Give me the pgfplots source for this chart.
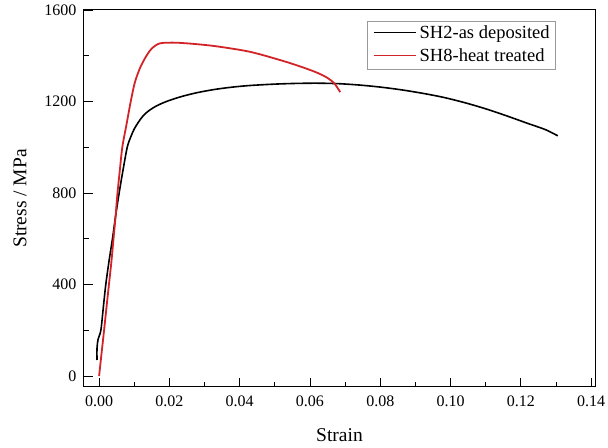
\documentclass[border=0pt]{standalone}
\usepackage{fontspec}
\setmainfont{Liberation Serif}
\usepackage{pgfplots}
\pgfplotsset{compat=1.18}
\definecolor{shRed}{RGB}{210,35,40}

\begin{document}
\begin{tikzpicture}
\begin{axis}[
    scale only axis,
    width=511pt, height=377pt,
    xmin=-0.0043, xmax=0.1411,
    ymin=-48, ymax=1600,
    xtick={0,0.02,...,0.14},
    ytick={0,400,...,1600},
    minor x tick num=1,
    minor y tick num=1,
    tick align=inside,
    xtick pos=bottom, ytick pos=left,
    major tick length=9pt, minor tick length=5pt,
    tick style={black, line width=0.9pt},
    axis line style={line width=1pt},
    xticklabel={\pgfmathprintnumber[assume math mode=true,fixed,fixed zerofill,precision=2]{\tick}},
    yticklabel={\pgfmathprintnumber[assume math mode=true,fixed,precision=0,1000 sep={}]{\tick}},
    ticklabel style={font=\fontsize{16}{18}\selectfont},
    xticklabel style={yshift=-5pt},
    yticklabel style={xshift=-4pt},
    xlabel={Strain}, ylabel={Stress / MPa},
    every axis x label/.style={at={(rel axis cs:0.5,-0.127)}, anchor=center,
        font=\fontsize{19.5}{22}\selectfont},
    every axis y label/.style={at={(rel axis cs:-0.125,0.5)}, rotate=90, anchor=center,
        font=\fontsize{19.5}{22}\selectfont},
]
% SH2-as deposited
\addplot[black, line width=1.6pt, smooth, tension=0.5] coordinates {
    (-0.0006,70) (-0.0006,120) (-0.0003,160) (0.0005,200) (0.0012,300)
    (0.0019,400) (0.0028,500) (0.0038,600) (0.0047,700) (0.0057,800)
    (0.0068,900) (0.0080,1000) (0.0090,1045) (0.0100,1080) (0.0112,1110)
    (0.0125,1137) (0.0140,1158) (0.0160,1178) (0.0185,1196) (0.021,1210)
    (0.024,1224) (0.028,1239) (0.033,1253) (0.038,1263) (0.043,1270)
    (0.050,1276) (0.056,1279) (0.062,1280) (0.068,1278) (0.074,1272)
    (0.080,1263) (0.086,1251) (0.092,1236) (0.098,1218) (0.104,1195)
    (0.110,1168) (0.116,1137) (0.122,1104) (0.127,1077) (0.1305,1050)
};
% SH8-heat treated
\addplot[shRed, line width=1.8pt, smooth, tension=0.5] coordinates {
    (0,0) (0.0007,100) (0.0014,198) (0.0021,300) (0.0028,400)
    (0.0035,500) (0.0041,600) (0.0047,700) (0.0052,795) (0.0059,900)
    (0.0066,1000) (0.0078,1100) (0.0090,1200) (0.0102,1285) (0.0118,1352)
    (0.0136,1403) (0.0150,1432) (0.0165,1449) (0.0180,1456) (0.022,1457)
    (0.0275,1451) (0.0335,1441) (0.043,1417) (0.0524,1377) (0.058,1349)
    (0.062,1326) (0.065,1303) (0.0670,1278) (0.0686,1241)
};
\end{axis}
% legend
\node[draw=gray!80, line width=0.6pt, anchor=north east, inner xsep=6pt, inner ysep=1pt,
      font=\fontsize{18.5}{23}\selectfont]
  at ([shift={(-39pt,-10.7pt)}]current axis.north east) {%
  \begin{tabular}{@{}l@{\hspace{3pt}}l@{}}
  \tikz[baseline={(0,-0.3em)}]\draw[black, line width=1.6pt] (0,0) -- (42pt,0); & SH2-as deposited\\
  \tikz[baseline={(0,-0.3em)}]\draw[shRed, line width=1.8pt] (0,0) -- (42pt,0); & SH8-heat treated
  \end{tabular}};
\pgfresetboundingbox
\path ([shift={(-84pt,-61pt)}]current axis.south west) rectangle ([shift={(13pt,10pt)}]current axis.north east);
\end{tikzpicture}
\end{document}
